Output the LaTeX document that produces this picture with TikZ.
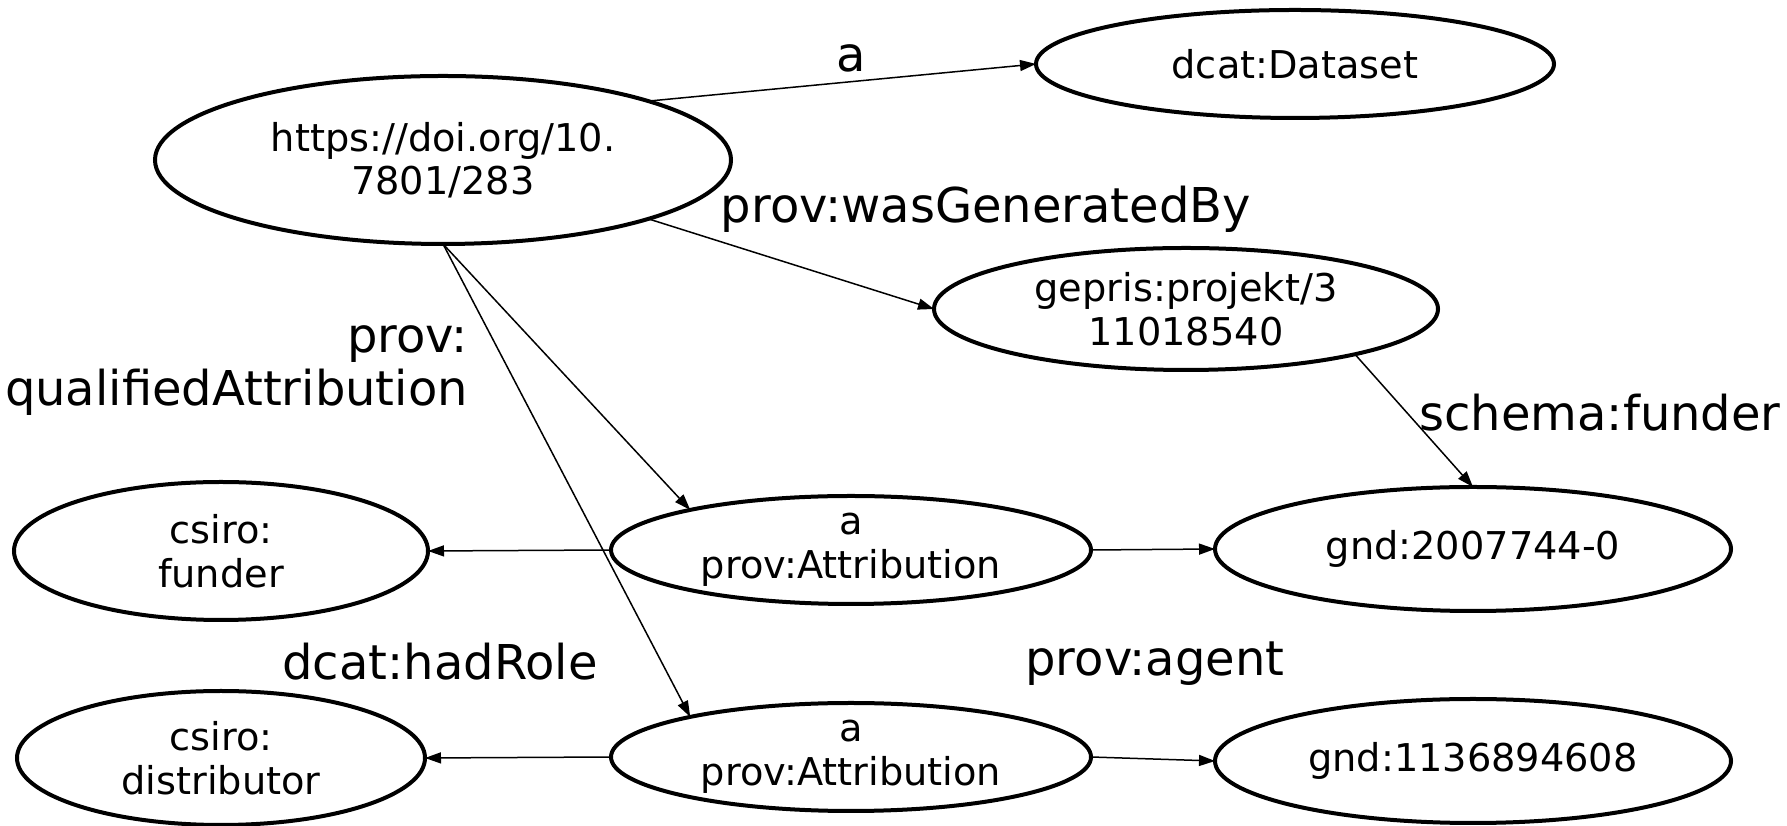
\documentclass[tikz,border=0pt]{standalone}
\usepackage{fontspec}
\setmainfont{DejaVu Sans}
\usetikzlibrary{shapes.geometric,arrows.meta}

\begin{document}
\begin{tikzpicture}[x=1pt,y=1pt,
  res/.style={ellipse, draw, line width=4pt, inner sep=0pt, outer sep=0pt,
    align=center, font=\fontsize{38.3}{43.5}\selectfont},
  lbl/.style={font=\fontsize{48}{53}\selectfont, inner sep=0pt},
  rel/.style={line width=1.5pt, -{Triangle[length=16pt,width=11pt]}}]
\useasboundingbox (0,0) rectangle (1787,826);

% resources
\node[res, minimum width=576pt, minimum height=168pt] (doi) at (443,666) {https://doi.org/10.\\7801/283};
\node[res, minimum width=518pt, minimum height=108pt] (dcat) at (1295,762) {dcat:Dataset};
\node[res, minimum width=504pt, minimum height=122pt] (gepris) at (1186,517) {gepris:projekt/3\\11018540};
\node[res, minimum width=414pt, minimum height=138pt] (funder) at (221,275) {csiro:\\funder};
\node[res, minimum width=480pt, minimum height=108pt] (att1) at (851,276) {a\\prov:Attribution};
\node[res, minimum width=516pt, minimum height=124pt] (gnd1) at (1473,277) {gnd:2007744-0};
\node[res, minimum width=408pt, minimum height=134pt] (distributor) at (221,68) {csiro:\\distributor};
\node[res, minimum width=480pt, minimum height=108pt] (att2) at (851,69) {a\\prov:Attribution};
\node[res, minimum width=516pt, minimum height=124pt] (gnd2) at (1473,65) {gnd:1136894608};

% properties
\draw[rel] (doi.16) -- (dcat.west);
\draw[rel] (doi.-16) -- (gepris.west);
\draw[rel] (doi.south) -- (att1.166);
\draw[rel] (doi.south) -- (att2.166);
\draw[rel] (gepris.-15) -- (gnd1.north);
\draw[rel] (att1.west) -- (funder.east);
\draw[rel] (att1.east) -- (gnd1.west);
\draw[rel] (att2.west) -- (distributor.east);
\draw[rel] (att2.east) -- (gnd2.west);

% property labels
\node[lbl] (la) at (851,768) {a};
\node[lbl] (lgen) at (986,617) {prov:wasGeneratedBy};
\node[lbl, align=right, anchor=east] (lqa) at (468,455) {prov:\\qualifiedAttribution};
\node[lbl] (lsf) at (1600,413) {schema:funder};
\node[lbl] (lrole) at (440,164) {dcat:hadRole};
\node[lbl] (lagent) at (1155,162) {prov:agent};
\end{tikzpicture}
\end{document}
